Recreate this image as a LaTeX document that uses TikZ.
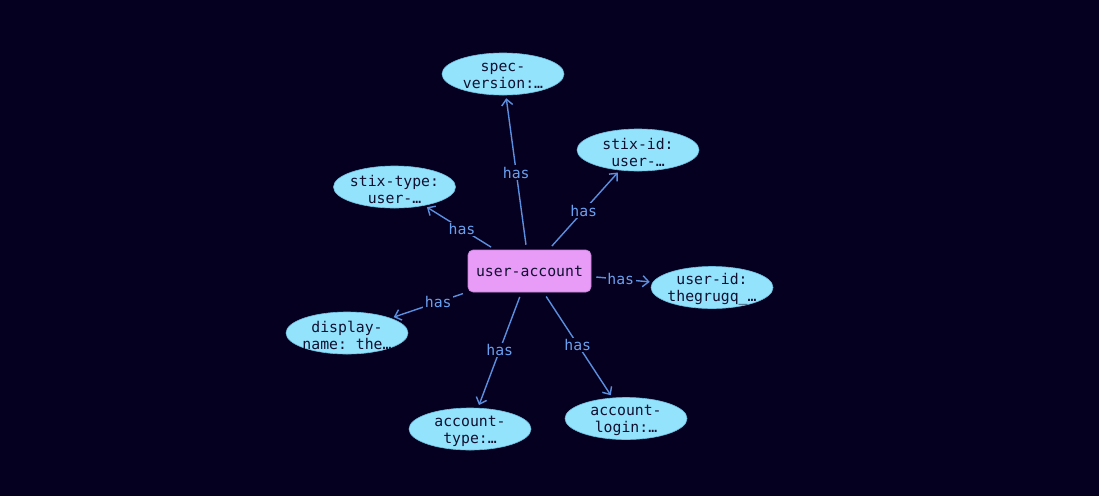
\documentclass[tikz,border=0pt]{standalone}
\usepackage{fontspec}
\setmonofont{DejaVu Sans Mono}
\usetikzlibrary{shapes.geometric,arrows.meta,calc}
\definecolor{bgc}{HTML}{05001F}
\definecolor{ellc}{HTML}{94E3FD}
\definecolor{ellb}{HTML}{6FC0E0}
\definecolor{boxc}{HTML}{E89CF8}
\definecolor{boxb}{HTML}{C77FD8}
\definecolor{edgec}{HTML}{5A8EE0}
\definecolor{labc}{HTML}{6AA0F0}
\definecolor{txtc}{HTML}{101030}
\tikzset{
  lbl/.style={font=\ttfamily\fontsize{14.8}{17}\selectfont, text=txtc, align=center, inner sep=0pt, yshift=-2pt},
  prop/.style={ellipse, fill=ellc, draw=ellb, line width=0.6pt, minimum width=122pt, minimum height=42pt, inner sep=0pt},
  mainbox/.style={rectangle, rounded corners=5pt, fill=boxc, draw=boxb, line width=0.6pt, minimum width=123pt, minimum height=42pt, font=\ttfamily\fontsize{14.8}{17}\selectfont, text=txtc},
  edge/.style={draw=edgec, line width=1.4pt, -{Straight Barb[length=6pt,width=11pt]}, shorten <=5pt, shorten >=3pt},
  haslbl/.style={font=\ttfamily\fontsize{14.8}{17}\selectfont, text=labc, fill=bgc, inner sep=1.5pt}
}
\begin{document}
\begin{tikzpicture}[x=1pt,y=-1pt]
\fill[bgc] (0,0) rectangle (1099,496);
\useasboundingbox (0,0) rectangle (1099,496);
\node[mainbox] (ua) at (529.5,271) {user-account};
\node[prop, label={[lbl]center:spec-\\version:…}] (sv) at (503,74) {};
\node[prop, label={[lbl]center:stix-id:\\user-…}] (si) at (638,150) {};
\node[prop, label={[lbl]center:stix-type:\\user-…}] (st) at (394.5,187) {};
\node[prop, label={[lbl]center:user-id:\\thegrugq\_…}] (uid) at (712,287.5) {};
\node[prop, label={[lbl]center:display-\\name: the…}] (dn) at (347,333) {};
\node[prop, label={[lbl]center:account-\\type:…}] (at) at (470,429) {};
\node[prop, label={[lbl]center:account-\\login:…}] (al) at (626,418.5) {};
\foreach \t in {sv,si,st,uid,dn,at,al}{
  \draw[edge] (ua) -- (\t);
  \node[haslbl] at ($(ua)!0.5!(\t)$) {has};
}
\end{tikzpicture}
\end{document}
